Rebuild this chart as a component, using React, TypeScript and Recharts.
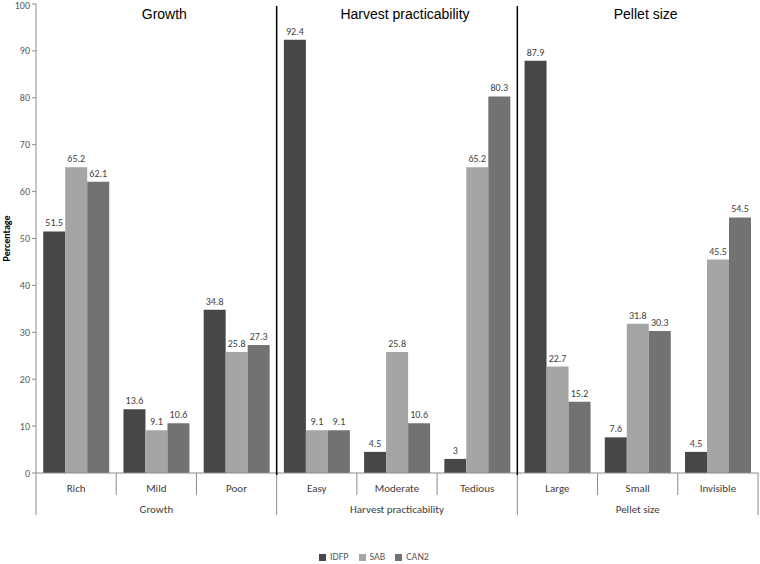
import React from "react"
import { BarChart, Bar, XAxis, YAxis, Legend, LabelList } from "recharts"

document.body.style.margin = "0"

const categories = ["Rich", "Mild", "Poor", "Easy", "Moderate", "Tedious", "Large", "Small", "Invisible"]
const groups = ["Growth", "Harvest practicability", "Pellet size"]
const seriesNames = ["IDFP", "SAB", "CAN2"]
const idfp = [51.5, 13.6, 34.8, 92.4, 4.5, 3, 87.9, 7.6, 4.5]
const sab = [65.2, 9.1, 25.8, 9.1, 25.8, 65.2, 22.7, 31.8, 45.5]
const can2 = [62.1, 10.6, 27.3, 9.1, 10.6, 80.3, 15.2, 30.3, 54.5]
const yTicks = [0, 10, 20, 30, 40, 50, 60, 70, 80, 90, 100]

const data = categories.map((category, i) => ({
  category,
  IDFP: idfp[i],
  SAB: sab[i],
  CAN2: can2[i],
}))

const W = 760
const H = 564
const margin = { top: 4, right: 2, left: 0, bottom: 0 }
const Y_AXIS_W = 36
const BAND = (W - margin.left - margin.right - Y_AXIS_W) / categories.length
const FONT = "Carlito, Calibri, 'Liberation Sans', Arial, sans-serif"
const AXIS_GRAY = "#8c8c8c"
const TEXT = "#404040"

function CategoryTick(props: any) {
  const { x, y, payload } = props
  const i = props.index ?? payload.index
  const pos = i % 3
  const group = groups[Math.floor(i / 3)]
  const left = x - BAND / 2
  const right = x + BAND / 2
  return (
    <g>
      <text x={x} y={y + 19} textAnchor="middle" fontSize={11} fill={TEXT} fontFamily={FONT}>
        {payload.value}
      </text>
      <line x1={left} x2={left} y1={y} y2={pos === 0 ? y + 42 : y + 22} stroke={AXIS_GRAY} />
      {i === categories.length - 1 && (
        <line x1={right} x2={right} y1={y} y2={y + 42} stroke={AXIS_GRAY} />
      )}
      {pos === 1 && (
        <text x={x} y={y + 40} textAnchor="middle" fontSize={11} fill={TEXT} fontFamily={FONT}>
          {group}
        </text>
      )}
      {pos === 1 && (
        <text x={x + 8} y={margin.top + 15} textAnchor="middle" fontSize={14} fill="#000" fontFamily="'Liberation Sans', Arial, sans-serif">
          {group}
        </text>
      )}
      {pos === 0 && i > 0 && (
        <line x1={left} x2={left} y1={margin.top + 2} y2={y + 2} stroke="#000" strokeWidth={1.5} />
      )}
    </g>
  )
}

export default function App() {
  return (
    <div style={{ width: W, height: H, fontFamily: FONT, background: "#fff" }}>
      <BarChart width={W} height={H} data={data} margin={margin} barCategoryGap="9%" barGap={0}>
        <YAxis
          type="number"
          domain={[0, 100]}
          ticks={yTicks}
          width={Y_AXIS_W}
          tickSize={4}
          tick={{ fontSize: 10, fill: "#595959", fontFamily: FONT }}
          axisLine={{ stroke: AXIS_GRAY }}
          tickLine={{ stroke: AXIS_GRAY }}
          label={{
            value: "Percentage",
            angle: -90,
            position: "insideLeft",
            offset: 6,
            style: { textAnchor: "middle", fontWeight: 700, fontSize: 10, fill: "#000", fontFamily: FONT },
          }}
        />
        <XAxis
          dataKey="category"
          interval={0}
          height={77}
          tickSize={0}
          tickMargin={0}
          tickLine={false}
          axisLine={{ stroke: AXIS_GRAY }}
          tick={<CategoryTick />}
        />
        <Legend
          verticalAlign="bottom"
          align="center"
          iconType="square"
          iconSize={7}
          itemSorter={(item: any) => seriesNames.indexOf(item.value)}
          wrapperStyle={{ fontSize: 10, lineHeight: "14px", fontFamily: FONT }}
          formatter={(v: string) => <span style={{ color: "#595959" }}>{v}</span>}
        />
        <Bar dataKey="IDFP" fill="#474747" isAnimationActive={false}>
          <LabelList dataKey="IDFP" position="top" offset={5} fontSize={10} fill={TEXT} fontFamily={FONT} />
        </Bar>
        <Bar dataKey="SAB" fill="#a5a5a5" isAnimationActive={false}>
          <LabelList dataKey="SAB" position="top" offset={5} fontSize={10} fill={TEXT} fontFamily={FONT} />
        </Bar>
        <Bar dataKey="CAN2" fill="#727272" isAnimationActive={false}>
          <LabelList dataKey="CAN2" position="top" offset={5} fontSize={10} fill={TEXT} fontFamily={FONT} />
        </Bar>
      </BarChart>
    </div>
  )
}
